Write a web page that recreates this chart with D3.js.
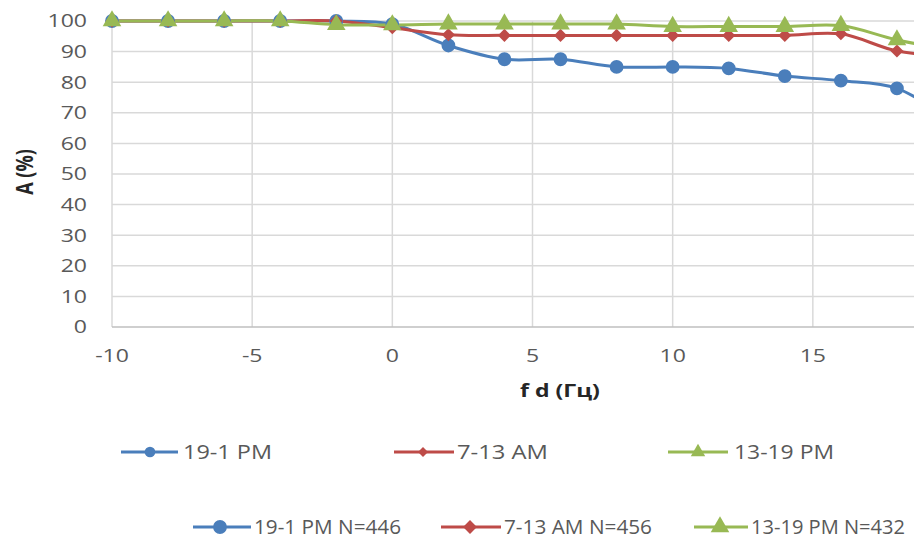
<!DOCTYPE html>
<html><head><meta charset="utf-8">
<script src="https://cdn.jsdelivr.net/npm/d3@7"></script>
<style>body{margin:0;background:#fff}svg{display:block}</style>
</head><body><svg id="c" width="914" height="540"></svg>
<script>
const fd = [-10,-8,-6,-4,-2,0,2,4,6,8,10,12,14,16,18,20];
const pm19 = [100,100,100,100,100,99,92,87.5,87.5,85,85,84.5,82,80.5,78,67];
const am7 = [100,100,100,100,100,97.8,95.5,95.3,95.3,95.3,95.3,95.3,95.3,95.8,90.2,88.5];
const pm13 = [100,100,100,100,98.8,98.7,99,99,99,99,98.2,98.2,98.2,98.5,93.8,90.5];
const yTicks = [0,10,20,30,40,50,60,70,80,90,100];
const xTicks = [-10,-5,0,5,10,15];
const names1 = ["19-1 PM","7-13 AM","13-19 PM"];
const names2 = ["19-1 PM N=446","7-13 AM N=456","13-19 PM N=432"];

const colors = ["#4a7ebb","#be4b48","#98b954"];
const symbols = [d3.symbolCircle, d3.symbolSquare, d3.symbolTriangle];
const rot = [0,45,0];
const svg = d3.select("#c");
const x = d3.scaleLinear().domain([-10,20]).range([112,953]);
const y = d3.scaleLinear().domain([0,100]).range([327,21]);
const SX = 1.28;
const font = "'Open Sans', sans-serif";

// grid
svg.append("g").selectAll("line").data(yTicks.filter(d=>d>0)).join("line")
  .attr("x1",x(-10)).attr("x2",x(20)).attr("y1",d=>y(d)).attr("y2",d=>y(d))
  .attr("stroke","#d9d9d9").attr("stroke-width",1.5);
svg.append("g").selectAll("line").data(xTicks).join("line")
  .attr("x1",d=>x(d)).attr("x2",d=>x(d)).attr("y1",y(0)).attr("y2",y(100))
  .attr("stroke","#d9d9d9").attr("stroke-width",1.5);
svg.append("line").attr("x1",x(-10)).attr("x2",x(20)).attr("y1",y(0)).attr("y2",y(0))
  .attr("stroke","#bfbfbf").attr("stroke-width",1.5);

// tick labels
svg.append("g").selectAll("text").data(yTicks).join("text")
  .attr("transform",d=>`translate(87,${y(d)}) scale(${SX},1)`)
  .attr("text-anchor","end").attr("dy","0.35em")
  .attr("font-family",font).attr("font-size",18).attr("fill","#595959")
  .text(d=>d);
svg.append("g").selectAll("text").data(xTicks).join("text")
  .attr("transform",d=>`translate(${x(d)},362) scale(${SX},1)`)
  .attr("text-anchor","middle")
  .attr("font-family",font).attr("font-size",18).attr("fill","#595959")
  .text(d=>d);

// axis titles
svg.append("text").attr("transform",`translate(560,397) scale(${SX},1)`)
  .attr("text-anchor","middle").attr("font-family",font).attr("font-weight","bold")
  .attr("font-size",18).attr("fill","#262626").text("f d (Гц)");
svg.append("text").attr("transform",`translate(33,172) scale(${SX},1) rotate(-90)`)
  .attr("text-anchor","middle").attr("font-family",font).attr("font-weight","bold")
  .attr("font-size",18).attr("fill","#262626").text("A (%)");

// series
const series = [pm19, am7, pm13];
const line = d3.line().x((d,i)=>x(fd[i])).y(d=>y(d)).curve(d3.curveCatmullRom.alpha(0.5));
const msize = [150,85,150];
series.forEach((s,k)=>{
  svg.append("path").datum(s).attr("d",line).attr("fill","none")
    .attr("stroke",colors[k]).attr("stroke-width",3).attr("stroke-linejoin","round");
});
series.forEach((s,k)=>{
  svg.append("g").selectAll("path").data(s).join("path")
    .attr("transform",(d,i)=>`translate(${x(fd[i])},${y(d)}) rotate(${rot[k]})`)
    .attr("d",d3.symbol().type(symbols[k]).size(msize[k]))
    .attr("fill",colors[k]);
});

// legends
function legend(names, yy, lines, marks, texts, fs, sizes){
  names.forEach((n,k)=>{
    svg.append("line").attr("x1",lines[k][0]).attr("x2",lines[k][1]).attr("y1",yy).attr("y2",yy)
      .attr("stroke",colors[k]).attr("stroke-width",3);
    svg.append("path").attr("transform",`translate(${marks[k]},${yy}) rotate(${rot[k]})`)
      .attr("d",d3.symbol().type(symbols[k]).size(sizes[k])).attr("fill",colors[k]);
    svg.append("text").attr("x",texts[k][0]).attr("y",yy).attr("dy","0.36em")
      .attr("textLength",texts[k][1]-texts[k][0]).attr("lengthAdjust","spacingAndGlyphs")
      .attr("font-family",font).attr("font-size",fs).attr("fill","#595959").text(n);
  });
}
legend(names1, 452, [[121,178],[394,454],[668,728]], [150,423,698],
  [[183,272],[457,548],[734,834]], 20, [90,50,90]);
legend(names2, 527, [[193,251],[441,501],[694,748]], [220,470,720],
  [[254,401],[504,652],[751,905]], 20, [150,95,150]);
</script></body></html>
